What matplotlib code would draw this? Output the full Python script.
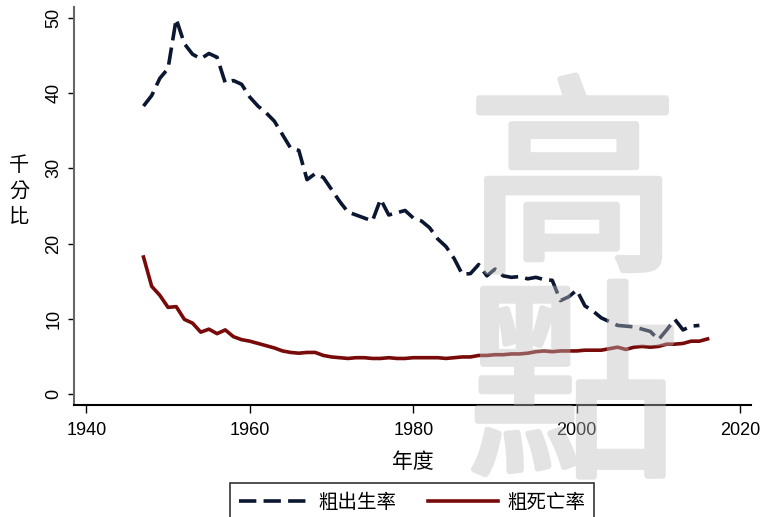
import matplotlib
matplotlib.use('Agg')
import matplotlib.pyplot as plt
import matplotlib.patheffects as pe
import numpy as np

plt.rcParams['font.family'] = ['Liberation Sans', 'Noto Sans CJK TC', 'DejaVu Sans']

# 粗出生率 1947-2015, 粗死亡率 1947-2016 (千分比)
birth_years = list(range(1947, 2016))
birth_rate = [38.3, 39.7, 42.0, 43.3, 49.9, 46.6, 45.2, 44.6, 45.3, 44.8,
              41.4, 41.7, 41.2, 39.5, 38.3, 37.4, 36.3, 34.5, 32.7, 32.4,
              28.5, 29.3, 28.8, 27.2, 25.6, 24.2, 23.8, 23.4, 23.0, 25.9,
              23.8, 24.1, 24.4, 23.4, 23.0, 22.1, 20.6, 19.6, 18.0, 15.9,
              16.0, 17.2, 15.7, 16.6, 15.7, 15.5, 15.6, 15.3, 15.5, 15.2,
              15.1, 12.4, 12.9, 13.8, 11.7, 11.0, 10.1, 9.6, 9.1, 9.0,
              8.9, 8.6, 8.3, 7.2, 8.5, 9.9, 8.5, 9.0, 9.1]
death_years = list(range(1947, 2017))
death_rate = [18.2, 14.3, 13.1, 11.5, 11.6, 9.9, 9.4, 8.2, 8.6, 8.0,
              8.5, 7.6, 7.2, 7.0, 6.7, 6.4, 6.1, 5.7, 5.5, 5.4,
              5.5, 5.5, 5.1, 4.9, 4.8, 4.7, 4.8, 4.8, 4.7, 4.7,
              4.8, 4.7, 4.7, 4.8, 4.8, 4.8, 4.8, 4.7, 4.8, 4.9,
              4.9, 5.1, 5.1, 5.2, 5.2, 5.3, 5.3, 5.4, 5.6, 5.7,
              5.6, 5.7, 5.7, 5.7, 5.8, 5.8, 5.8, 6.0, 6.2, 5.9,
              6.2, 6.3, 6.2, 6.3, 6.6, 6.6, 6.7, 7.0, 7.0, 7.3]
x_ticks = [1940, 1960, 1980, 2000, 2020]
y_ticks = [0, 10, 20, 30, 40, 50]

fig = plt.figure(figsize=(7.6, 5.17), dpi=100)
ax = fig.add_axes([0.0974, 0.2166, 0.8906, 0.77])

ax.plot(birth_years, birth_rate, color='#0b1631', lw=2.6,
        dashes=(4.8, 2.0), label='粗出生率', solid_capstyle='butt')
ax.plot(death_years, death_rate, color='#780a0a', lw=2.6, label='粗死亡率')

ax.set_xlim(1938.5, 2021.3)
ax.set_ylim(-1.5, 51.5)
ax.set_xticks(x_ticks)
ax.set_yticks(y_ticks)
ax.tick_params(axis='x', length=6, width=1, labelsize=13, pad=6)
ax.tick_params(axis='y', length=4.5, width=1, labelsize=13, pad=4)
for lab in ax.get_yticklabels():
    lab.set_rotation(90)
    lab.set_va('center')

for s in ['top', 'right']:
    ax.spines[s].set_visible(False)
ax.spines['left'].set_color('#666666')
ax.spines['left'].set_linewidth(1.5)
ax.spines['bottom'].set_linewidth(1.5)

ax.set_xlabel('年度', fontsize=15, family=['Noto Sans CJK TC'], labelpad=9)
fig.text(19 / 760, 1 - 191 / 517, '千\n分\n比', fontsize=14.5,
         family=['Noto Sans CJK TC'], ha='center', va='center',
         linespacing=1.3)

leg = fig.legend(loc='lower center', bbox_to_anchor=(412 / 760, -14 / 517),
                 ncol=2, frameon=True, fancybox=False, edgecolor='black',
                 prop={'family': 'Noto Sans CJK TC', 'size': 14},
                 handlelength=3.6, columnspacing=1.6, borderpad=0.45,
                 handletextpad=0.5)
leg.get_frame().set_linewidth(1.2)


# 浮水印: opaque text + stroke, then group alpha through an agg filter
def fade(img, dpi):
    out = img.copy()
    out[..., 3] *= 0.42
    return out, 0, 0


wm_color = (190 / 255, 190 / 255, 190 / 255)
for ch, yc in [('高', 195), ('點', 400)]:
    t = fig.text(573 / 760, 1 - yc / 517, ch, fontsize=153,
                 family=['Noto Sans CJK TC'], color=wm_color,
                 ha='center', va='center', zorder=10)
    t.set_path_effects([pe.Stroke(linewidth=4.5, foreground=wm_color), pe.Normal()])
    t.set_agg_filter(fade)

fig.savefig('out.png', dpi=100)
